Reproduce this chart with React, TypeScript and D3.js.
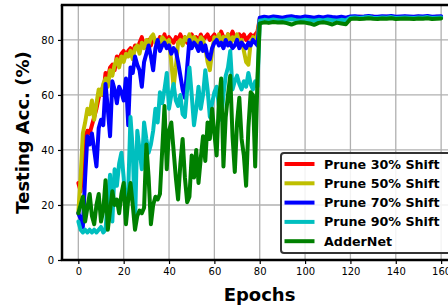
import React, { Component } from "react";
import * as d3 from "d3";

// epochs 0..79 one per epoch, then 80..160 every 2 epochs
const earlyEpochs = d3.range(0, 80);
const lateEpochs = d3.range(80, 161, 2);
const epochs = earlyEpochs.concat(lateEpochs);

const xTicks = [0, 20, 40, 60, 80, 100, 120, 140, 160];
const yTicks = [0, 20, 40, 60, 80];

const seriesNames = ["Prune 30% Shift", "Prune 50% Shift", "Prune 70% Shift", "Prune 90% Shift", "AdderNet"];
const seriesColors = ["#ff0000", "#bfbf00", "#0000ff", "#00bfbf", "#008000"];

const prune30Early = [28, 25, 35, 45, 47, 46, 49, 52, 55, 59, 62, 60, 68, 66, 70, 71, 69, 74, 73, 75,
  76, 74, 76, 77, 75, 78, 77, 79, 81, 78, 79, 80, 78, 81, 80, 79, 81, 80, 82, 79,
  81, 80, 79, 81, 80, 82, 80, 81, 79, 81, 82, 80, 81, 79, 82, 80, 81, 82, 80, 81,
  82, 80, 81, 83, 81, 80, 82, 81, 83, 81, 80, 82, 81, 82, 80, 81, 82, 81, 82, 83];
const prune30Late = [87.6, 88.0, 87.8, 87.7, 88.0, 87.9, 87.6, 87.9, 88.0, 87.7, 87.8, 88.0, 87.6, 87.9, 87.8, 87.7, 88.0, 87.8, 87.6, 87.9,
  88.3, 88.2, 88.4, 88.3, 88.1, 88.4, 88.2, 88.3, 88.4, 88.2, 88.3, 88.1, 88.4, 88.2, 88.3, 88.4, 88.1, 88.3, 88.2, 88.4, 88.3];

const prune50Early = [17, 30, 46, 50, 55, 53, 58, 51, 57, 62, 60, 64, 66, 63, 69, 67, 71, 73, 70, 74,
  72, 75, 74, 76, 73, 77, 78, 75, 79, 77, 80, 78, 81, 82, 79, 80, 78, 81, 80, 79,
  80, 72, 63, 70, 79, 80, 78, 81, 80, 82, 79, 81, 80, 78, 81, 80, 77, 72, 69, 76,
  81, 80, 82, 79, 81, 80, 82, 78, 81, 80, 82, 79, 80, 76, 72, 71, 79, 81, 80, 82];
const prune50Late = [87.5, 87.8, 87.6, 87.9, 87.7, 87.5, 87.8, 87.6, 87.9, 87.7, 87.6, 87.8, 87.5, 87.7, 87.9, 87.6, 87.8, 87.5, 87.7, 87.6,
  88.2, 88.3, 88.1, 88.2, 88.4, 88.2, 88.1, 88.3, 88.2, 88.4, 88.1, 88.2, 88.3, 88.2, 88.1, 88.3, 88.2, 88.4, 88.1, 88.2, 88.3];

const prune70Early = [17, 15, 12, 30, 45, 42, 46, 40, 34, 48, 51, 49, 64, 55, 45, 65, 62, 57, 63, 61,
  58, 66, 49, 70, 68, 74, 71, 69, 63, 72, 75, 78, 74, 69, 77, 80, 76, 78, 79, 77,
  78, 75, 77, 76, 72, 67, 62, 59, 70, 80, 77, 79, 78, 76, 79, 76, 78, 74, 73, 77,
  79, 80, 78, 79, 77, 80, 78, 79, 77, 78, 80, 77, 79, 78, 77, 79, 78, 80, 79, 78];
const prune70Late = [88.1, 88.4, 88.2, 88.5, 88.3, 88.1, 88.4, 88.6, 88.3, 88.2, 88.5, 88.3, 88.1, 88.4, 88.2, 88.5, 88.3, 88.2, 88.4, 88.1,
  88.5, 88.6, 88.4, 88.5, 88.7, 88.5, 88.4, 88.6, 88.5, 88.7, 88.4, 88.5, 88.6, 88.5, 88.4, 88.6, 88.5, 88.7, 88.4, 88.5, 88.6];

const prune90Early = [14, 11, 10, 11, 10, 11, 10, 11, 10, 11, 12, 10, 11, 22, 31, 14, 33, 27, 35, 39,
  30, 15, 25, 52, 40, 13, 47, 40, 33, 50, 44, 39, 42, 47, 55, 50, 61, 57, 62, 68,
  55, 60, 64, 58, 56, 60, 53, 52, 62, 70, 60, 49, 55, 63, 55, 60, 69, 62, 52, 57,
  61, 63, 56, 51, 60, 67, 70, 76, 62, 65, 67, 64, 62, 65, 63, 68, 64, 62, 65, 63];
const prune90Late = [87.0, 87.3, 87.1, 87.4, 87.2, 87.0, 87.3, 87.5, 87.2, 87.1, 87.3, 87.2, 87.0, 87.3, 87.1, 87.4, 87.2, 87.0, 87.3, 87.1,
  88.1, 88.2, 88.0, 88.2, 88.3, 88.1, 88.0, 88.2, 88.1, 88.3, 88.0, 88.1, 88.2, 88.1, 88.0, 88.2, 88.1, 88.3, 88.0, 88.1, 88.2];

const adderEarly = [17, 20, 23, 14, 19, 24, 16, 13, 20, 24, 14, 18, 29, 11, 18, 25, 20, 22, 17, 24,
  28, 13, 22, 28, 20, 11, 16, 18, 17, 19, 42, 30, 13, 20, 23, 22, 24, 40, 56, 33,
  47, 50, 40, 30, 22, 35, 44, 30, 21, 23, 38, 30, 40, 28, 37, 45, 36, 50, 44, 55,
  46, 38, 58, 66, 34, 52, 60, 67, 45, 32, 50, 59, 44, 38, 27, 48, 61, 60, 34, 66];
const adderLate = [86.0, 86.4, 86.2, 86.5, 86.3, 86.4, 86.1, 85.6, 86.2, 86.4, 86.3, 86.0, 85.5, 86.2, 86.4, 86.1, 85.6, 86.3, 86.0, 85.7,
  87.6, 87.8, 87.6, 87.7, 87.9, 87.7, 87.6, 87.8, 87.7, 87.9, 87.6, 87.7, 87.8, 87.7, 87.6, 87.8, 87.7, 87.9, 87.6, 87.7, 87.8];

const seriesValues = [
  prune30Early.concat(prune30Late),
  prune50Early.concat(prune50Late),
  prune70Early.concat(prune70Late),
  prune90Early.concat(prune90Late),
  adderEarly.concat(adderLate),
];

class App extends Component {
  svgRef = React.createRef<SVGSVGElement>();

  componentDidMount() {
    var margin = { top: 5, right: 0, bottom: 46, left: 62 },
      W = 448,
      H = 306,
      w = 395,
      h = H - margin.top - margin.bottom;

    var svg = d3.select(this.svgRef.current).attr("width", W).attr("height", H);
    svg.selectAll("*").remove();

    var g = svg.append("g").attr("transform", `translate(${margin.left},${margin.top})`);

    var x_scale = d3.scaleLinear().domain([-7.2, 167]).range([0, w]);
    var y_scale = d3.scaleLinear().domain([0, 92.7]).range([h, 0]);

    // grid
    g.selectAll(".xgrid")
      .data(xTicks)
      .join("line")
      .attr("x1", (d) => x_scale(d))
      .attr("x2", (d) => x_scale(d))
      .attr("y1", 0)
      .attr("y2", h)
      .style("stroke", "#b0b0b0")
      .style("stroke-width", 1.3);
    g.selectAll(".ygrid")
      .data(yTicks)
      .join("line")
      .attr("x1", 0)
      .attr("x2", w)
      .attr("y1", (d) => y_scale(d))
      .attr("y2", (d) => y_scale(d))
      .style("stroke", "#b0b0b0")
      .style("stroke-width", 1.3);

    g.append("clipPath")
      .attr("id", "plotclip")
      .append("rect")
      .attr("width", w)
      .attr("height", h);

    var line = d3
      .line<number>()
      .x((d, i) => x_scale(epochs[i]))
      .y((d) => y_scale(d))
      .curve(d3.curveLinear);

    g.append("g")
      .attr("clip-path", "url(#plotclip)")
      .selectAll("path")
      .data(seriesValues)
      .join("path")
      .attr("d", (d) => line(d))
      .style("fill", "none")
      .style("stroke", (d, i) => seriesColors[i])
      .style("stroke-width", 4)
      .style("stroke-linejoin", "round")
      .style("stroke-linecap", "round");

    // axes
    var xAxis = g
      .append("g")
      .attr("transform", `translate(0,${h})`)
      .call(d3.axisBottom(x_scale).tickValues(xTicks).tickSize(4).tickPadding(4));
    var yAxis = g
      .append("g")
      .call(d3.axisLeft(y_scale).tickValues(yTicks).tickSize(4).tickPadding(4));

    [xAxis, yAxis].forEach((a) => {
      a.select(".domain").remove();
      a.selectAll("line").style("stroke", "#000").style("stroke-width", 1.2);
      a.selectAll("text")
        .style("font-family", "'DejaVu Sans', sans-serif")
        .style("font-size", "10px")
        .style("fill", "#000");
    });

    // spines
    g.append("line").attr("x1", 0).attr("x2", 0).attr("y1", 0).attr("y2", h)
      .style("stroke", "#000").style("stroke-width", 2.5);
    g.append("line").attr("x1", -1.2).attr("x2", w).attr("y1", 0).attr("y2", 0)
      .style("stroke", "#000").style("stroke-width", 2.5);
    g.append("line").attr("x1", -1.2).attr("x2", w).attr("y1", h).attr("y2", h)
      .style("stroke", "#000").style("stroke-width", 2.5);

    // labels
    svg.append("text")
      .attr("x", 259.5)
      .attr("y", 301)
      .style("text-anchor", "middle")
      .style("font-family", "'DejaVu Sans', sans-serif")
      .style("font-weight", "bold")
      .style("font-size", "18px")
      .text("Epochs");

    svg.append("text")
      .attr("transform", "rotate(-90)")
      .attr("x", -(margin.top + h / 2))
      .attr("y", 28.5)
      .style("text-anchor", "middle")
      .style("font-family", "'DejaVu Sans', sans-serif")
      .style("font-weight", "bold")
      .style("font-size", "18px")
      .text("Testing Acc. (%)");

    // legend
    var legend = svg.append("g").attr("transform", "translate(281,153)");
    legend.append("rect")
      .attr("width", 180)
      .attr("height", 100)
      .attr("rx", 3)
      .style("fill", "#fff")
      .style("fill-opacity", 0.85)
      .style("stroke", "#333")
      .style("stroke-width", 2);
    var rows = legend
      .selectAll(".lrow")
      .data(seriesNames)
      .join("g")
      .attr("transform", (d, i) => `translate(0,${11 + i * 19.3})`);
    rows.append("line")
      .attr("x1", 3.5)
      .attr("x2", 33.5)
      .style("stroke", (d, i) => seriesColors[i])
      .style("stroke-width", 4);
    rows.append("text")
      .attr("x", 43)
      .attr("y", 4.5)
      .style("font-family", "'DejaVu Sans', sans-serif")
      .style("font-weight", "bold")
      .style("font-size", "12.7px")
      .text((d) => d);
  }

  render() {
    return (
      <svg ref={this.svgRef} style={{ position: "absolute", left: 0, top: 0, background: "#fff" }}></svg>
    );
  }
}

export default App;
